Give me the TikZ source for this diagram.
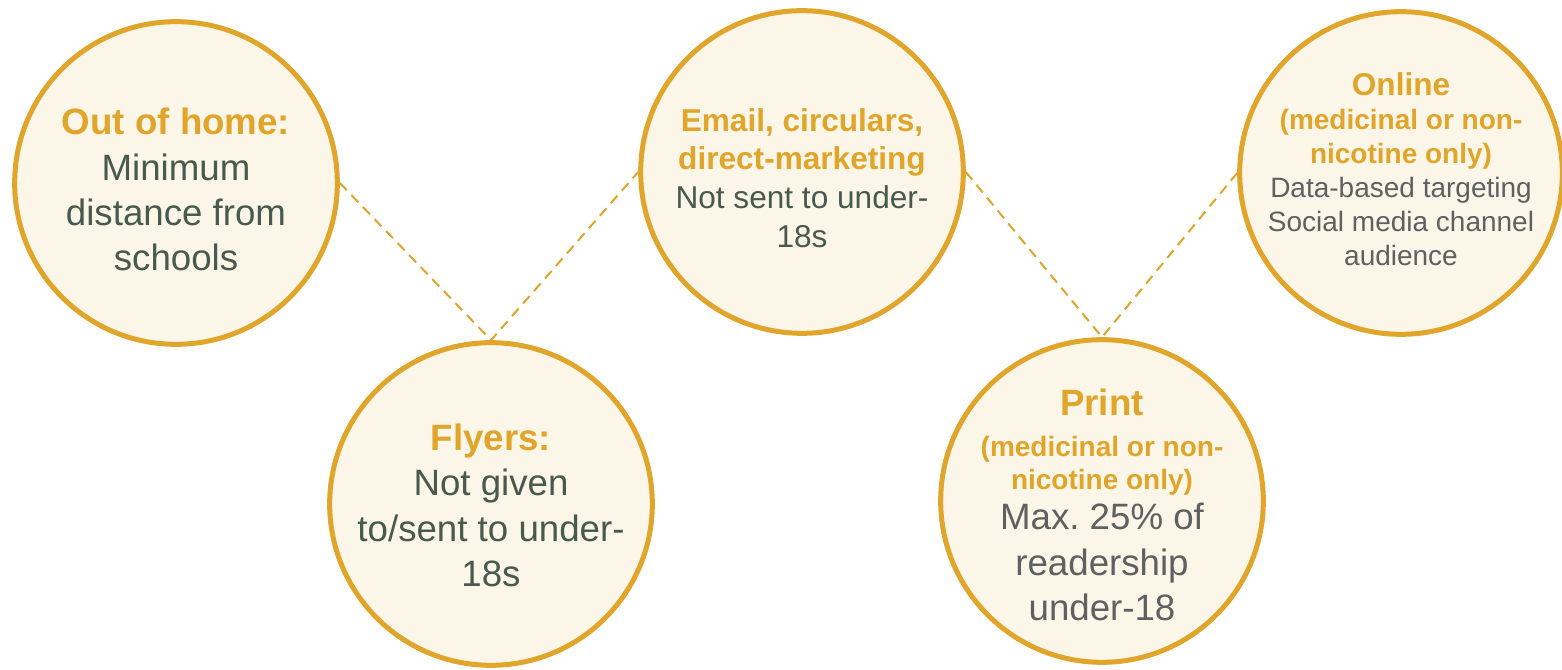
\documentclass[tikz,border=0pt]{standalone}
\usepackage{fontspec}
\setmainfont{Liberation Sans}
\definecolor{gold}{HTML}{E0A52A}
\definecolor{cream}{HTML}{FBF6E8}
\definecolor{slate}{HTML}{485A4E}
\definecolor{ash}{HTML}{606060}

\begin{document}
\begin{tikzpicture}[x=0.75pt, y=0.75pt,
    ring/.style={circle, draw=gold, fill=cream, line width=3.75pt, minimum size=242pt, inner sep=0pt},
    words/.style={align=center, text=slate, inner sep=0pt},
    big/.style={font=\fontsize{27.5}{34}\selectfont},
    mid/.style={font=\fontsize{23.7}{29}\selectfont},
    small/.style={font=\fontsize{21}{25.5}\selectfont},
    link/.style={draw=gold, line width=1.5pt, dash pattern=on 7.5pt off 5pt}]

  \useasboundingbox (0,0) rectangle (1562,670);

  \node[ring] (home) at (176,487) {};
  \node[ring] (flyers) at (491,166) {};
  \node[ring] (mail) at (802,498) {};
  \node[ring] (print) at (1102,169) {};
  \node[ring] (online) at (1401,497) {};

  \node[words, big] (home-txt) at ([yshift=-5pt]home.center) {{\color{gold}\bfseries Out of home:}\\ Minimum\\ distance from\\ schools};
  \node[words, big] (flyers-txt) at ([yshift=-1pt]flyers.center) {{\color{gold}\bfseries Flyers:}\\ Not given\\ to/sent to under-\\ 18s};
  \node[words, mid] (mail-txt) at ([yshift=-4.5pt]mail.center) {{\color{gold}\bfseries Email, circulars,}\\ {\color{gold}\bfseries direct-marketing}\\ Not sent to under-\\ 18s};
  \node[words, big, text=ash] (print-txt) at ([yshift=-3pt]print.center) {{\color{gold}\bfseries Print}\\[-3.5pt]
    {\fontsize{21}{25}\selectfont\color{gold}\bfseries (medicinal or non-}\\[-9.5pt]
    {\fontsize{21}{25}\selectfont\color{gold}\bfseries nicotine only)}\\[-3.5pt]
    Max.\ 25\% of\\ readership\\ under-18};
  \node[words, small, text=ash] (online-txt) at ([yshift=2.5pt]online.center) {{\fontsize{23.7}{28}\selectfont\color{gold}\bfseries Online}\\
    {\color{gold}\bfseries (medicinal or non-}\\ {\color{gold}\bfseries nicotine only)}\\
    Data-based targeting\\ Social media channel\\ audience};

  % dashed zig-zag between the channels
  \draw[link] (home.east) -- (flyers.north) -- (mail.west);
  \draw[link] (mail.east) -- (print.north) -- (online.west);
\end{tikzpicture}
\end{document}
